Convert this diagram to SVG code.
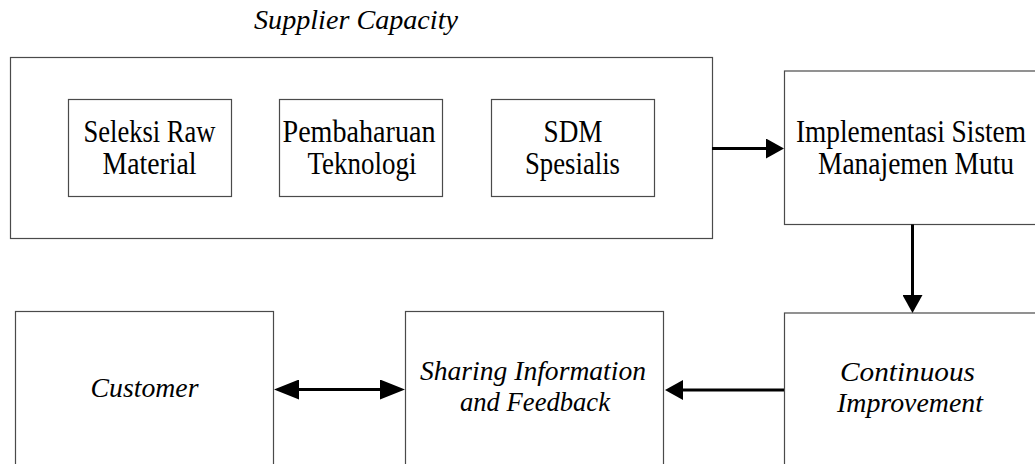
<svg xmlns="http://www.w3.org/2000/svg" width="1035" height="464" viewBox="0 0 1035 464">
<style>
  .box { fill: #ffffff; stroke: #4a4a4a; stroke-width: 1.2; }
  .t { font-family: "Liberation Serif", "Times New Roman", serif; fill: #000000; text-anchor: middle; }
  .up { font-size: 31px; }
  .it { font-size: 27px; font-style: italic; }
  .conn { stroke: #000000; stroke-width: 3; fill: none; }
</style>
<defs>
  <marker id="arr" viewBox="0 0 18 20" refX="1" refY="10" markerWidth="18" markerHeight="20" markerUnits="userSpaceOnUse" orient="auto-start-reverse">
    <path d="M0,0 L18,10 L0,20 z" fill="#000000"/>
  </marker>
  <marker id="arrL" viewBox="0 0 25 20" refX="1" refY="10" markerWidth="25" markerHeight="20" markerUnits="userSpaceOnUse" orient="auto-start-reverse">
    <path d="M0,0 L25,10 L0,20 z" fill="#000000"/>
  </marker>
</defs>
<rect width="1035" height="464" fill="#ffffff"/>

<text class="t it" x="356" y="29" textLength="204" lengthAdjust="spacingAndGlyphs">Supplier Capacity</text>

<g id="supplier-capacity">
  <rect class="box" x="10.5" y="57.5" width="702" height="181"/>
</g>

<g id="seleksi">
  <rect class="box" x="68.5" y="99.5" width="163" height="97"/>
  <text class="t up" x="149.5" y="142" textLength="132" lengthAdjust="spacingAndGlyphs">Seleksi Raw</text>
  <text class="t up" x="149.5" y="174" textLength="94" lengthAdjust="spacingAndGlyphs">Material</text>
</g>

<g id="pembaharuan">
  <rect class="box" x="279.5" y="99.5" width="163" height="97"/>
  <text class="t up" x="359" y="142" textLength="153" lengthAdjust="spacingAndGlyphs">Pembaharuan</text>
  <text class="t up" x="362" y="174" textLength="109" lengthAdjust="spacingAndGlyphs">Teknologi</text>
</g>

<g id="sdm">
  <rect class="box" x="491.5" y="99.5" width="163" height="97"/>
  <text class="t up" x="573" y="142" textLength="59" lengthAdjust="spacingAndGlyphs">SDM</text>
  <text class="t up" x="572.5" y="174" textLength="95" lengthAdjust="spacingAndGlyphs">Spesialis</text>
</g>

<g id="implementasi">
  <rect class="box" x="784.5" y="71" width="262" height="153.5"/>
  <text class="t up" x="911" y="142" textLength="230" lengthAdjust="spacingAndGlyphs">Implementasi Sistem</text>
  <text class="t up" x="916" y="174" textLength="196" lengthAdjust="spacingAndGlyphs">Manajemen Mutu</text>
</g>

<g id="customer">
  <rect class="box" x="15.5" y="311.5" width="258" height="170"/>
  <text class="t it" x="144.5" y="397" textLength="108" lengthAdjust="spacingAndGlyphs">Customer</text>
</g>

<g id="sharing">
  <rect class="box" x="405.5" y="311.5" width="258" height="170"/>
  <text class="t it" x="533" y="380" textLength="226" lengthAdjust="spacingAndGlyphs">Sharing Information</text>
  <text class="t it" x="535" y="411" textLength="150" lengthAdjust="spacingAndGlyphs">and Feedback</text>
</g>

<g id="continuous">
  <rect class="box" x="784.5" y="313" width="262" height="170"/>
  <text class="t it" x="907.5" y="381" textLength="135" lengthAdjust="spacingAndGlyphs">Continuous</text>
  <text class="t it" x="910" y="412" textLength="146" lengthAdjust="spacingAndGlyphs">Improvement</text>
</g>

<g id="connectors">
  <line class="conn" x1="712" y1="148.5" x2="767" y2="148.5" marker-end="url(#arr)"/>
  <line class="conn" x1="912.5" y1="224.5" x2="912.5" y2="296" marker-end="url(#arr)"/>
  <line class="conn" x1="784" y1="390" x2="682" y2="390" marker-end="url(#arr)"/>
  <line class="conn" x1="298" y1="389.5" x2="381" y2="389.5" marker-start="url(#arrL)" marker-end="url(#arrL)"/>
</g>
</svg>
